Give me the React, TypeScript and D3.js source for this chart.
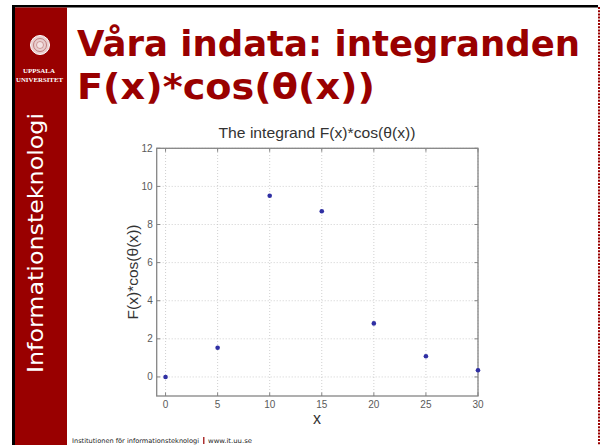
import React from "react";
import * as d3 from "d3";

const xValues = [0, 5, 10, 15, 20, 25, 30];
const yValues = [0, 1.53, 9.51, 8.70, 2.81, 1.09, 0.35];
const xTicks = [0, 5, 10, 15, 20, 25, 30];
const yTicks = [0, 2, 4, 6, 8, 10, 12];

const titleLine1 = "Våra indata: integranden";
const titleLine2 = "F(x)*cos(θ(x))";
const plotTitle = "The integrand F(x)*cos(θ(x))";
const yLabel = "F(x)*cos(θ(x))";
const xLabel = "x";
const sideText = "Informationsteknologi";
const footerText = "Institutionen för informationsteknologi";
const footerUrl = "www.it.uu.se";

const RED = "#990000";
const AX = "#858585";
const TXT = "#5a5a5a";

export default function App() {
  const x = d3.scaleLinear().domain([-0.85, 30]).range([156.7, 478]);
  const y = d3.scaleLinear().domain([-1, 12]).range([396, 148.3]);
  const [x0, x1] = x.range();
  const [y0, y1] = y.range();
  const axisFont = "Liberation Sans, Arial, sans-serif";

  return (
    <svg
      width={602}
      height={445}
      style={{ position: "absolute", left: 0, top: 0, background: "#fff" }}
    >
      <rect x={0} y={0} width={602} height={445} fill="#fff" />
      {/* frame */}
      <rect x={12} y={5} width={586} height={2.5} fill="#000" />
      <rect x={12} y={5} width={3} height={440} fill="#000" />
      <line x1={599} y1={7} x2={599} y2={445} stroke={RED} strokeWidth={2} strokeDasharray="2,1.2" />
      {/* sidebar */}
      <rect x={15} y={7.5} width={52} height={437.5} fill={RED} />
      <g>
        <circle cx={40} cy={45} r={9.5} fill="#e9cfcf" stroke="#fff" strokeWidth={1} />
        <circle cx={40} cy={45} r={6.5} fill="none" stroke="#b56a6a" strokeWidth={0.8} />
        <circle cx={40} cy={45} r={3.5} fill="#f4e4e4" stroke="#b56a6a" strokeWidth={0.6} />
        <text x={39} y={72.5} fill="#fff" fontFamily="Liberation Serif, serif" fontSize={7} fontWeight="bold" textAnchor="middle" textLength={32} lengthAdjust="spacingAndGlyphs">UPPSALA</text>
        <text x={39.5} y={81.5} fill="#fff" fontFamily="Liberation Serif, serif" fontSize={7} fontWeight="bold" textAnchor="middle" textLength={47} lengthAdjust="spacingAndGlyphs">UNIVERSITET</text>
      </g>
      <text
        transform="translate(43,373) rotate(-90)"
        fill="#fff"
        fontFamily="DejaVu Sans, Verdana, sans-serif"
        fontSize={21}
        textLength={260}
        lengthAdjust="spacingAndGlyphs"
      >
        {sideText}
      </text>
      {/* slide title */}
      <text x={77} y={56} fill={RED} fontFamily="DejaVu Sans, Verdana, sans-serif" fontWeight="bold" fontSize={35.5} textLength={503} lengthAdjust="spacingAndGlyphs">{titleLine1}</text>
      <text x={77} y={99} fill={RED} fontFamily="DejaVu Sans, Verdana, sans-serif" fontWeight="bold" fontSize={35.5} textLength={298} lengthAdjust="spacingAndGlyphs">{titleLine2}</text>

      {/* plot */}
      <g fontFamily={axisFont}>
        <text x={317} y={138} fill="#333" fontSize={15} textAnchor="middle" textLength={197} lengthAdjust="spacingAndGlyphs">{plotTitle}</text>
        {/* grid */}
        {xTicks.map((t) => (
          <line key={"gx" + t} x1={x(t)} x2={x(t)} y1={y0} y2={y1} stroke="#c4c4c4" strokeWidth={0.8} strokeDasharray="1,2" />
        ))}
        {yTicks.map((t) => (
          <line key={"gy" + t} x1={x0} x2={x1} y1={y(t)} y2={y(t)} stroke="#c4c4c4" strokeWidth={0.8} strokeDasharray="1,2" />
        ))}
        {/* box */}
        <rect x={x0} y={y1} width={x1 - x0} height={y0 - y1} fill="none" stroke={AX} strokeWidth={1.3} />
        {/* ticks */}
        {xTicks.map((t) => (
          <g key={"tx" + t}>
            <line x1={x(t)} x2={x(t)} y1={y0} y2={y0 - 3.5} stroke={AX} strokeWidth={1} />
            <line x1={x(t)} x2={x(t)} y1={y1} y2={y1 + 3.5} stroke={AX} strokeWidth={1} />
            <text x={x(t)} y={y0 + 11.5} fill={TXT} fontSize={10} textAnchor="middle">{t}</text>
          </g>
        ))}
        {yTicks.map((t) => (
          <g key={"ty" + t}>
            <line x1={x0} x2={x0 + 3.5} y1={y(t)} y2={y(t)} stroke={AX} strokeWidth={1} />
            <line x1={x1} x2={x1 - 3.5} y1={y(t)} y2={y(t)} stroke={AX} strokeWidth={1} />
            <text x={152.7} y={y(t) + 3.5} fill={TXT} fontSize={10} textAnchor="end">{t}</text>
          </g>
        ))}
        <text x={317} y={424} fill="#333" fontSize={16} textAnchor="middle">{xLabel}</text>
        <text transform="translate(138,272) rotate(-90)" fill="#333" fontSize={15} textAnchor="middle" textLength={95} lengthAdjust="spacingAndGlyphs">{yLabel}</text>
        {/* points */}
        {xValues.map((v, i) => (
          <circle key={"p" + i} cx={x(v)} cy={y(yValues[i])} r={2.3} fill="#2f2fa3" />
        ))}
      </g>

      {/* footer */}
      <g fontFamily="DejaVu Sans, Verdana, sans-serif" fontSize={6.5}>
        <text x={72} y={443} fill="#222" textLength={127} lengthAdjust="spacingAndGlyphs">{footerText}</text>
        <rect x={203.2} y={437} width={1.2} height={7} fill={RED} />
        <text x={208} y={443} fill="#222" textLength={44} lengthAdjust="spacingAndGlyphs">{footerUrl}</text>
      </g>
    </svg>
  );
}
